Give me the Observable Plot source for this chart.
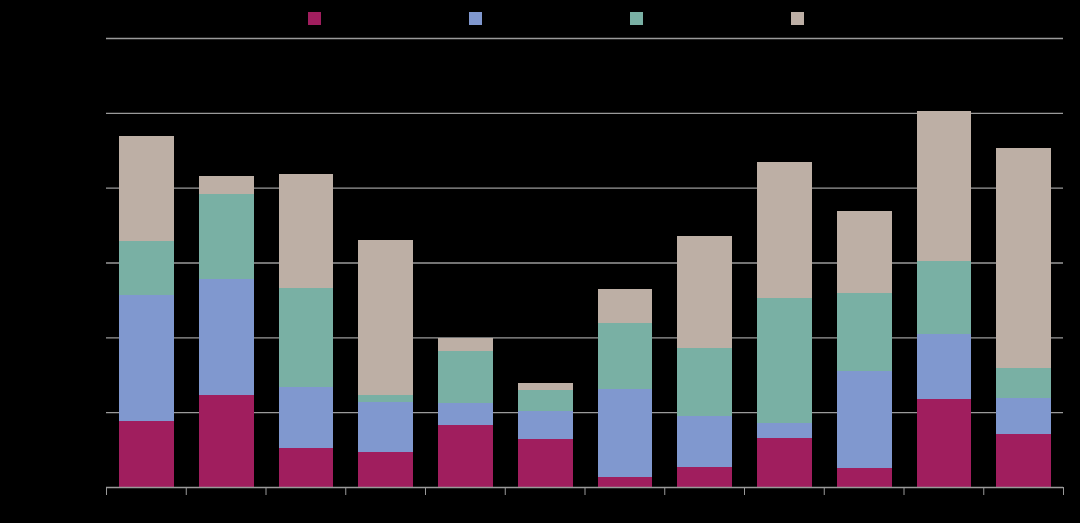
<!DOCTYPE html>
<html>
<head>
<meta charset="utf-8">
<script src="https://cdn.jsdelivr.net/npm/d3@7"></script>
<script src="https://cdn.jsdelivr.net/npm/@observablehq/plot@0.6"></script>
<style>
  html, body { margin: 0; padding: 0; background: #000; }
  #legend { height: 30px; box-sizing: border-box; padding-top: 12px; padding-left: 308px; display: flex; }
  .item { width: 161px; display: flex; align-items: flex-start; }
  .sw { width: 13px; height: 13px; display: inline-block; }
  #chart svg { display: block; }
</style>
</head>
<body>
<div id="legend"></div>
<div id="chart"></div>
<script>
const categories = ["1","2","3","4","5","6","7","8","9","10","11","12"];
const seriesNames = ["Series 1","Series 2","Series 3","Series 4"];
const seriesColors = ["#a01e5e","#8098cf","#79b0a4","#bdafa5"];
const series1 = [8.8, 12.3, 5.2, 4.7, 8.3, 6.4, 1.3, 2.7, 6.5, 2.5, 11.8, 7.1];
const series2 = [16.8, 15.5, 8.2, 6.7, 2.9, 3.7, 11.8, 6.8, 2.1, 13.0, 8.6, 4.8];
const series3 = [7.3, 11.4, 13.2, 0.9, 7.0, 2.9, 8.8, 9.1, 16.6, 10.4, 9.8, 4.0];
const series4 = [14.0, 2.4, 15.2, 20.7, 1.7, 0.9, 4.5, 15.0, 18.2, 11.0, 20.1, 29.4];
const yTicks = [0, 10, 20, 30, 40, 50, 60];

const allSeries = [series1, series2, series3, series4];
const data = [];
allSeries.forEach((vals, s) => {
  vals.forEach((v, i) => data.push({i, category: categories[i], series: seriesNames[s], value: v}));
});

const legend = document.getElementById("legend");
seriesNames.forEach((name, s) => {
  const it = document.createElement("div");
  it.className = "item";
  const sw = document.createElement("span");
  sw.className = "sw";
  sw.style.background = seriesColors[s];
  sw.title = name;
  it.appendChild(sw);
  legend.appendChild(it);
});

const gridColor = "#9a9a9a";
const chart = Plot.plot({
  width: 1080,
  height: 493,
  marginLeft: 106,
  marginRight: 17,
  marginTop: 8,
  marginBottom: 36,
  style: {background: "#000"},
  x: {domain: [0, categories.length], axis: null},
  y: {domain: [0, 60], axis: null},
  color: {domain: seriesNames, range: seriesColors},
  marks: [
    Plot.gridY(yTicks.slice(1), {stroke: gridColor, strokeOpacity: 1, strokeWidth: 1.3}),
    Plot.rectY(data, Plot.stackY({
      x1: "i",
      x2: d => d.i + 1,
      y: "value",
      fill: "series",
      order: seriesNames,
      insetLeft: 13,
      insetRight: 12,
      shapeRendering: "crispEdges"
    })),
    Plot.ruleY([0], {stroke: gridColor, strokeWidth: 1.5}),
    Plot.axisX(d3.range(categories.length + 1), {tickSize: 8, tickFormat: () => "", stroke: gridColor, label: null})
  ]
});
document.getElementById("chart").appendChild(chart);
</script>
</body>
</html>
